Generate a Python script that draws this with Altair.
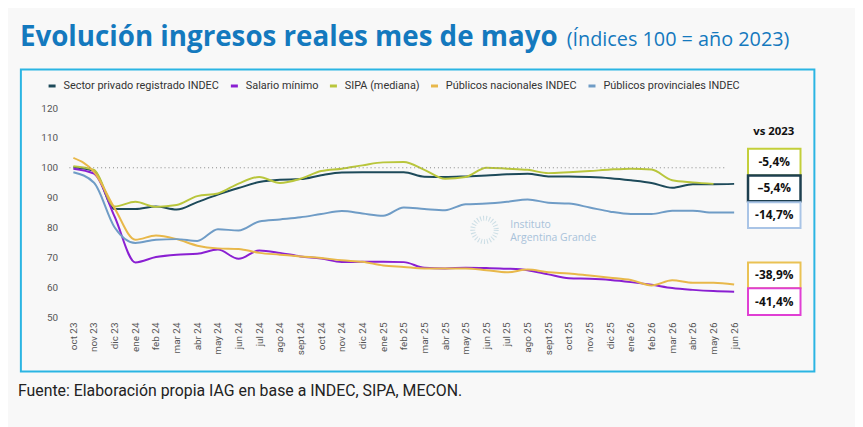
import pandas as pd
import altair as alt

# Month labels on the x axis
months = ["oct 23", "nov 23", "dic 23", "ene 24", "feb 24", "mar 24", "abr 24",
          "may 24", "jun 24", "jul 24", "ago 24", "sept 24", "oct 24", "nov 24",
          "dic 24", "ene 25", "feb 25", "mar 25", "abr 25", "may 25", "jun 25",
          "jul 25", "ago 25", "sept 25", "oct 25", "nov 25", "dic 25", "ene 26",
          "feb 26", "mar 26", "abr 26", "may 26", "jun 26"]

# Index values (100 = 2023)
privado = [100.2, 99.0, 86.2, 86.2, 87.0, 86.0, 88.5, 91.0, 93.2, 95.2, 96.0,
           96.2, 97.5, 98.4, 98.5, 98.5, 98.5, 97.0, 96.9, 97.1, 97.4, 97.8,
           98.0, 97.1, 97.1, 96.9, 96.5, 95.8, 94.9, 93.3, 94.5, 94.5, 94.6]
salario = [99.7, 98.0, 83.6, 68.3, 70.1, 70.9, 71.2, 72.6, 69.5, 72.3, 71.5,
           70.3, 69.6, 68.4, 68.5, 68.5, 68.4, 66.5, 66.3, 66.5, 66.4, 66.2,
           65.7, 64.3, 63.0, 62.8, 62.4, 61.7, 60.8, 59.7, 59.1, 58.7, 58.5]
sipa = [100.5, 99.3, 87.0, 88.6, 86.9, 87.5, 90.5, 91.4, 94.7, 96.9, 94.9,
        96.3, 98.9, 99.7, 100.8, 101.8, 101.9, 99.3, 96.3, 96.9, 100.0, 99.7,
        99.3, 98.2, 98.5, 98.9, 99.4, 99.7, 99.4, 95.8, 95.1, 94.6, None]
nacionales = [103.3, 98.6, 86.4, 75.9, 77.3, 76.1, 73.9, 73.0, 72.8, 71.5, 70.9,
              70.3, 69.8, 69.0, 68.5, 67.3, 66.8, 66.3, 66.3, 66.3, 65.7, 65.0,
              65.9, 65.0, 64.6, 63.9, 63.2, 62.4, 60.6, 62.3, 61.5, 61.5, 60.9]
provinciales = [98.5, 95.0, 80.0, 74.8, 75.9, 76.1, 75.5, 79.4, 79.0, 82.0, 82.7,
                83.4, 84.5, 85.5, 84.7, 83.9, 86.7, 86.2, 85.8, 87.8, 88.0, 88.6,
                89.4, 88.3, 88.0, 86.7, 85.3, 84.5, 84.5, 85.6, 85.6, 85.0, 85.0]
y_ticks = [50, 60, 70, 80, 90, 100, 110, 120]

series_names = ["Sector privado registrado INDEC", "Salario mínimo", "SIPA (mediana)",
                "Públicos nacionales INDEC", "Públicos provinciales INDEC"]
series_values = [privado, salario, sipa, nacionales, provinciales]
series_colors = ["#1d4a5a", "#8a1fd2", "#b9c63c", "#e8b84a", "#6f9cc6"]

# "vs 2023" boxes on the right
box_labels = ["-5,4%", "–5,4%", "-14,7%", "-38,9%", "-41,4%"]
box_colors = ["#c3cf3a", "#1d3f4f", "#a9c4e6", "#eac254", "#e03fd4"]
box_widths = [2, 2.5, 2, 2, 2]
# box tops / bottoms in pixels from the top of the plot area
box_top = [41, 68, 95, 156, 182]
box_bottom = [68, 94, 121, 182, 209]

rows = []
for name, vals in zip(series_names, series_values):
    for m, v in zip(months, vals):
        rows.append({"serie": name, "mes": m, "valor": v})
df = pd.DataFrame(rows)

W, H = 667, 211
yscale = alt.Scale(domain=[50, 120], nice=False, zero=False)
# same axis object for every layer on the y scale, so the merge keeps it
yaxis = alt.Axis(title=None, values=y_ticks, labelFontSize=10, labelColor="#555",
                 labelFont="Roboto", labelPadding=16, labelOverlap=False,
                 labelFlush=False, ticks=False, domain=False, grid=False)

lines = alt.Chart(df).mark_line(interpolate="monotone", strokeWidth=2).encode(
    x=alt.X("mes:N", sort=months, scale=alt.Scale(type="point", padding=0),
            axis=alt.Axis(title=None, labelAngle=-90, labelFontSize=10, labelColor="#555",
                          labelFont="Roboto", labelPadding=5, ticks=False, domain=False,
                          grid=False)),
    y=alt.Y("valor:Q", scale=yscale, axis=yaxis),
    color=alt.Color("serie:N", sort=series_names,
                    scale=alt.Scale(domain=series_names, range=series_colors),
                    legend=alt.Legend(orient="none", legendX=-27, legendY=-28,
                                      direction="horizontal", title=None,
                                      symbolType="stroke", symbolStrokeWidth=3,
                                      symbolSize=50, labelFontSize=11, labelFont="Roboto",
                                      labelColor="#333", columnPadding=4, labelOffset=6)),
    order=alt.Order("serie:N")
)

one = pd.DataFrame({"k": [0]})

frame = alt.Chart(one).mark_rect(fill="transparent", stroke="#2bb5e3", strokeWidth=2).encode(
    x=alt.value(-53), x2=alt.value(748), y=alt.value(-39), y2=alt.value(266)
)

# dotted reference line at 100
ref = alt.Chart(one).mark_rule(stroke="#888", strokeDash=[1, 3], strokeWidth=1).encode(
    x=alt.value(-4), x2=alt.value(658), y=alt.YDatum(100, scale=yscale, axis=yaxis)
)

title = alt.Chart(one).mark_text(
    text="Evolución ingresos reales mes de mayo", font="Open Sans", fontWeight="bold",
    fontSize=28, color="#1479be", align="left", baseline="alphabetic"
).encode(x=alt.value(-54), y=alt.value(-63))

subtitle = alt.Chart(one).mark_text(
    text="(Índices 100 = año 2023)", font="Open Sans", fontSize=20, color="#1479be",
    align="left", baseline="alphabetic"
).encode(x=alt.value(498), y=alt.value(-63))

footer = alt.Chart(one).mark_text(
    text="Fuente: Elaboración propia IAG en base a INDEC, SIPA, MECON.", font="Roboto",
    fontSize=16, color="#222", align="left", baseline="alphabetic"
).encode(x=alt.value(-56), y=alt.value(291))

vs = alt.Chart(one).mark_text(
    text="vs 2023", font="Open Sans", fontWeight="bold", fontSize=11.5, color="#111"
).encode(x=alt.value(707), y=alt.value(24))

logo = alt.Chart(one).mark_point(
    shape="circle", size=560, filled=False, stroke="#b9d3de", strokeWidth=5,
    strokeDash=[1, 2], opacity=0.7
).encode(x=alt.value(415), y=alt.value(123))

wm1 = alt.Chart(one).mark_text(
    text="Instituto", font="Open Sans", fontSize=10.5, color="#a8c2da", align="left"
).encode(x=alt.value(441), y=alt.value(118))
wm2 = alt.Chart(one).mark_text(
    text="Argentina Grande", font="Open Sans", fontSize=10.5, color="#a8c2da", align="left"
).encode(x=alt.value(441), y=alt.value(131))

# one small layer per box, placed in pixels so it does not touch the y scale
box_layers = []
for lab, col, sw, y0, y1 in zip(box_labels, box_colors, box_widths, box_top, box_bottom):
    box_layers.append(
        alt.Chart(one).mark_rect(fill="white", stroke=col, strokeWidth=sw).encode(
            x=alt.value(681), x2=alt.value(734), y=alt.value(y0), y2=alt.value(y1)
        )
    )
    box_layers.append(
        alt.Chart(one).mark_text(
            text=lab, font="Open Sans", fontWeight="bold", fontSize=12, color="#111"
        ).encode(x=alt.value(707.5), y=alt.value((y0 + y1) / 2))
    )

chart = alt.layer(
    frame, logo, wm1, wm2, lines, ref, *box_layers, vs, title, subtitle, footer
).properties(
    width=W, height=H,
    autosize=alt.AutoSizeParams(type="none"),
    padding={"left": 66, "top": 99, "right": 122, "bottom": 109},
    background="#f8f8f8"
).configure_view(stroke=None)

chart.save("out.html", embed_options={"renderer": "svg", "actions": False})
